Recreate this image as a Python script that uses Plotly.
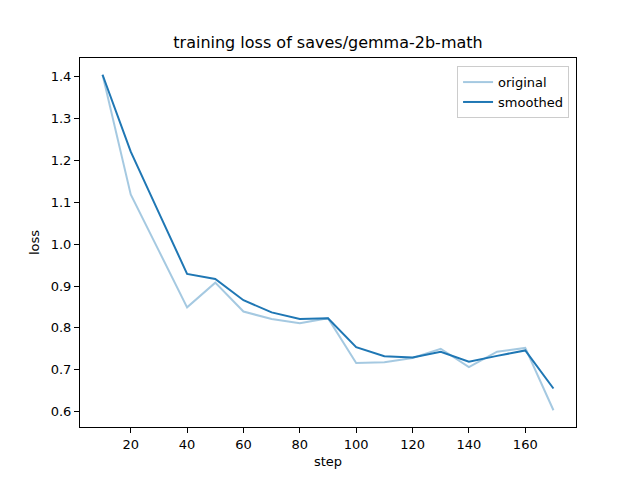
import plotly.graph_objects as go

steps = [10, 20, 30, 40, 50, 60, 70, 80, 90, 100, 110, 120, 130, 140, 150, 160, 170]
original = [1.405, 1.119, 0.984, 0.849, 0.908, 0.839, 0.821, 0.811, 0.823, 0.716, 0.718, 0.728,
            0.750, 0.706, 0.743, 0.752, 0.603]
smoothed = [1.405, 1.221, 1.075, 0.929, 0.917, 0.866, 0.837, 0.821, 0.823, 0.754, 0.732, 0.729,
            0.743, 0.719, 0.733, 0.746, 0.655]
title = "training loss of saves/gemma-2b-math"

fig = go.Figure()
fig.add_trace(go.Scatter(x=steps, y=original, mode="lines", name="original",
                         line=dict(color="rgba(31,119,180,0.4)", width=2)))
fig.add_trace(go.Scatter(x=steps, y=smoothed, mode="lines", name="smoothed",
                         line=dict(color="#1f77b4", width=2)))

font = "DejaVu Sans, sans-serif"
axis_common = dict(showline=True, mirror=True, linecolor="black", linewidth=1,
                   ticks="outside", ticklen=5, tickcolor="black", showgrid=False,
                   zeroline=False, tickfont=dict(size=13, color="black"))
fig.update_layout(
    width=640, height=480,
    margin=dict(l=72, r=72, t=50, b=61),
    paper_bgcolor="white", plot_bgcolor="white",
    font=dict(family=font, color="black"),
    title=dict(text=title, x=0.5, xanchor="center", xref="paper", y=1 - 34/480, yanchor="middle",
               font=dict(size=16, color="black")),
    xaxis=dict(range=[2, 178], tickvals=[20, 40, 60, 80, 100, 120, 140, 160],
               title=dict(text="step", font=dict(size=13), standoff=6), **axis_common),
    yaxis=dict(range=[0.563, 1.445], tickvals=[0.6, 0.7, 0.8, 0.9, 1.0, 1.1, 1.2, 1.3, 1.4],
               tickformat=".1f",
               title=dict(text="loss", font=dict(size=13), standoff=8), **axis_common),
    legend=dict(x=0.986, y=0.978, xanchor="right", yanchor="top", bgcolor="white",
                bordercolor="#cccccc", borderwidth=1, font=dict(size=13),
                tracegroupgap=0, itemwidth=30),
    showlegend=True,
)
fig.write_html("out.html")
